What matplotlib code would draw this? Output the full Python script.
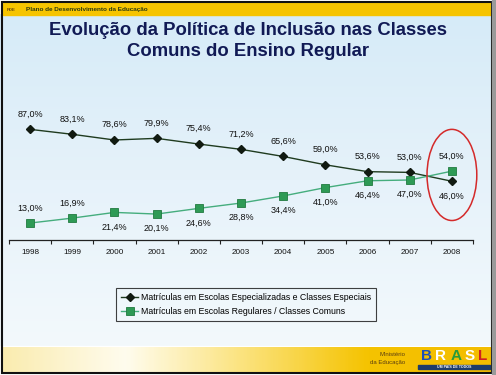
import matplotlib
matplotlib.use("Agg")
import matplotlib.pyplot as plt
import numpy as np
from matplotlib.patches import Ellipse, Rectangle
from matplotlib.colors import LinearSegmentedColormap

plt.rcParams["font.family"] = ["Liberation Sans", "DejaVu Sans"]

# --- data ---
years = ["1998", "1999", "2000", "2001", "2002", "2003", "2004", "2005", "2006", "2007", "2008"]
especiais = [87.0, 83.1, 78.6, 79.9, 75.4, 71.2, 65.6, 59.0, 53.6, 53.0, 46.0]
comuns = [13.0, 16.9, 21.4, 20.1, 24.6, 28.8, 34.4, 41.0, 46.4, 47.0, 54.0]
# label placement: +1 above the point, -1 below
pos_esp = [1, 1, 1, 1, 1, 1, 1, 1, 1, 1, -1]
pos_com = [1, 1, -1, -1, -1, -1, -1, -1, -1, -1, 1]
series_names = ["Matrículas em Escolas Especializadas e Classes Especiais",
                "Matrículas em Escolas Regulares / Classes Comuns"]

W, H = 496, 375
fig = plt.figure(figsize=(W / 100, H / 100), dpi=100)

# ---------- slide background (pixel coordinates) ----------
bg = fig.add_axes([0, 0, 1, 1])
bg.set_xlim(0, W); bg.set_ylim(H, 0); bg.axis("off")
sky = LinearSegmentedColormap.from_list("sky", ["#d6ebf8", "#e6f2fa", "#f3f9fc"])
bg.imshow(np.linspace(0, 1, 200)[:, None], cmap=sky, aspect="auto",
          extent=(0, W, 346, 14), zorder=0)
# top yellow band
bg.add_patch(Rectangle((3, 3), W - 8, 12, color="#f6c400", zorder=1))
bg.text(26, 9.5, "Plano de Desenvolvimento da Educação", fontsize=4.6, fontweight="bold",
        color="#2c3a10", va="center", zorder=2)
bg.text(11, 10, "PDE", fontsize=3.2, fontweight="bold", color="#6b4a10", ha="center",
        va="center", zorder=2)
# bottom gradient band
band = LinearSegmentedColormap.from_list("band", ["#faecb0", "#fffcee", "#fbe27a", "#f5c300", "#f3bd00"])
bg.imshow(np.linspace(0, 1, 300)[None, :], cmap=band, aspect="auto",
          extent=(3, W - 5, 372, 347), zorder=1)
bg.text(405, 354, "Ministério", fontsize=4.3, color="#5a3e10", ha="right", va="center", zorder=2)
bg.text(405, 362.5, "da Educação", fontsize=4.3, color="#5a3e10", ha="right", va="center", zorder=2)
for ch, xx, col in zip("BRASL", [426, 441, 456, 470, 483],
                       ["#1d4fb8", "#ffffff", "#2a9a3a", "#ffffff", "#d02020"]):
    bg.text(xx, 356.5, ch, fontsize=11, fontweight="black", color=col, ha="center",
            va="center", zorder=2)
bg.add_patch(Rectangle((418, 364.5), 72, 4.5, color="#1d3c6a", zorder=2))
bg.text(454, 366.9, "UM PAÍS DE TODOS", fontsize=2.6, color="white", fontweight="bold",
        ha="center", va="center", zorder=3)
# frame
bg.add_patch(Rectangle((1.5, 1.5), W - 6, H - 4, fill=False, ec="#111111", lw=1.5, zorder=4))
bg.add_patch(Rectangle((W - 4.5, 0), 4.5, H, color="#9a9a9a", zorder=4))

# title
fig.text(0.5, 0.918, "Evolução da Política de Inclusão nas Classes", fontsize=13.3,
         fontweight="bold", color="#111a55", ha="center", va="center")
fig.text(0.5, 0.862, "Comuns do Ensino Regular", fontsize=13.3,
         fontweight="bold", color="#111a55", ha="center", va="center")

# ---------- chart ----------
ax = fig.add_axes([9 / W, 135.5 / H, 464 / W, 126.6 / H])
ax.patch.set_alpha(0)
x = np.arange(len(years))
dark_line, dark_mk = "#1f3b1f", "#111a11"
green_line, green_mk = "#45ad7d", "#2e9a55"
l1, = ax.plot(x, especiais, color=dark_line, lw=1.0, marker="D", ms=4.2,
              mfc=dark_mk, mec=dark_mk, label=series_names[0], clip_on=False, zorder=3)
l2, = ax.plot(x, comuns, color=green_line, lw=1.0, marker="s", ms=5.2,
              mfc=green_mk, mec="#217a40", mew=0.6, label=series_names[1], clip_on=False, zorder=3)

for xi, v, p in zip(x, especiais, pos_esp):
    ax.annotate(f"{v:.1f}%".replace(".", ","), (xi, v), xytext=(0, 11 * p), textcoords="offset points",
                ha="center", va="center", fontsize=6.5, color="#111111")
for xi, v, p in zip(x, comuns, pos_com):
    ax.annotate(f"{v:.1f}%".replace(".", ","), (xi, v), xytext=(0, 10.5 * p), textcoords="offset points",
                ha="center", va="center", fontsize=6.5, color="#111111")

ax.add_patch(Ellipse((10, 51), 1.18, 72, fill=False, ec="#d42a2a", lw=1.1, clip_on=False, zorder=4))

ax.set_xlim(-0.5, len(years) - 0.5)
ax.set_ylim(0, 100)
ax.set_yticks([])
ax.set_xticks(np.arange(-0.5, len(years), 1.0))
ax.set_xticklabels([])
ax.set_xticks(x, minor=True)
ax.set_xticklabels(years, minor=True, fontsize=5.9, color="#111111")
ax.tick_params(axis="x", which="major", length=3, width=0.8, color="#222222")
ax.tick_params(axis="x", which="minor", length=0, pad=7)
for s in ["top", "left", "right"]:
    ax.spines[s].set_visible(False)
ax.spines["bottom"].set_color("#222222")
ax.spines["bottom"].set_linewidth(0.9)

leg = fig.legend(handles=[l1, l2], loc="center", bbox_to_anchor=(246 / W, 1 - 304.5 / H),
                 fontsize=6.3, frameon=True, fancybox=False, edgecolor="#111111",
                 handlelength=2.0, handletextpad=0.3, borderpad=0.6, labelspacing=0.55)
leg.get_frame().set_facecolor("none")
leg.get_frame().set_linewidth(0.8)

fig.savefig("out.png", dpi=100)
